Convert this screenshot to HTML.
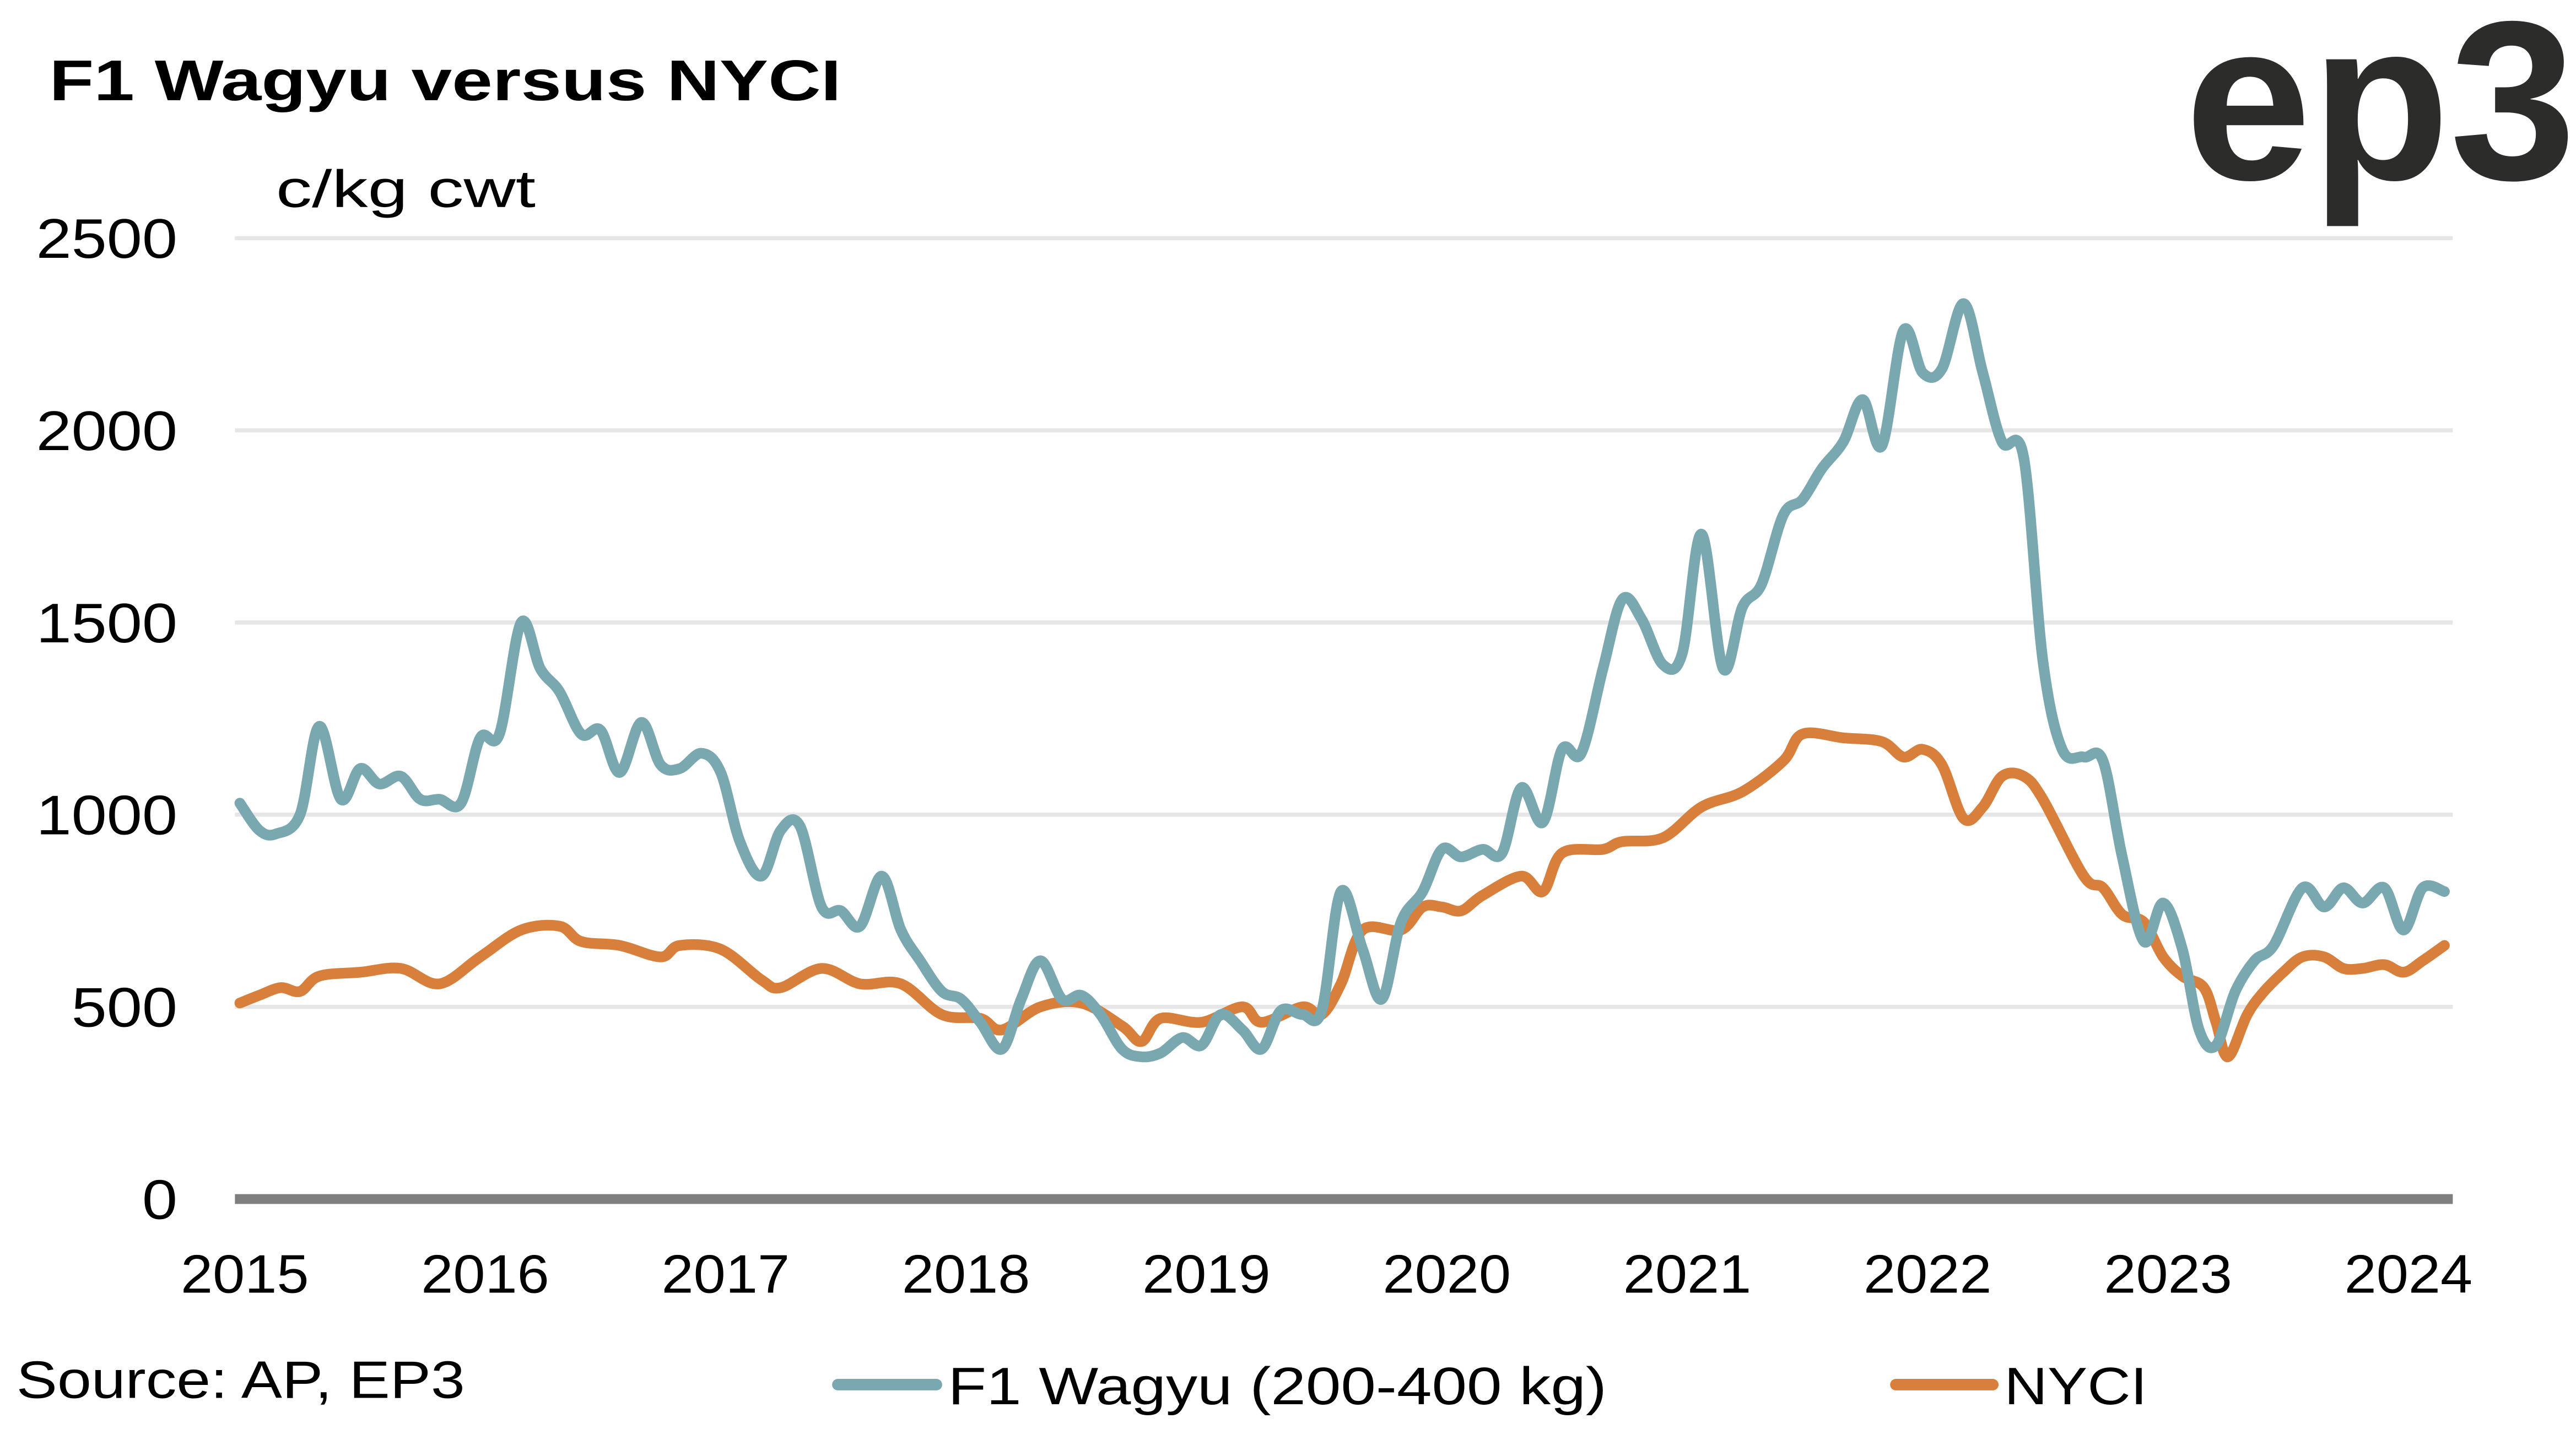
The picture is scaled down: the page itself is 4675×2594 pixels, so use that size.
<!DOCTYPE html>
<html><head><meta charset="utf-8"><style>
html,body{margin:0;padding:0;background:#fff;}
svg{display:block;}
text{font-family:"Liberation Sans",sans-serif;fill:#000;}
</style></head><body>
<svg width="4675" height="2594" viewBox="0 0 1568 870">
<text x="30" y="61" font-size="35" font-weight="bold" textLength="482" lengthAdjust="spacingAndGlyphs">F1 Wagyu versus NYCI</text>
<text x="1330" y="109" font-size="138" font-weight="bold" style="fill:#2c2c2a" textLength="238" lengthAdjust="spacingAndGlyphs">ep3</text>
<text x="168" y="126" font-size="32" textLength="158" lengthAdjust="spacingAndGlyphs">c/kg cwt</text>
<g id="grid"></g>
<g id="yt"></g>
<g id="xt"></g>
<g id="lines"></g>
<text x="10" y="851" font-size="32" textLength="273" lengthAdjust="spacingAndGlyphs">Source: AP, EP3</text>
<g>
<line x1="510" y1="843" x2="570" y2="843" stroke="#7aa8b0" stroke-width="7" stroke-linecap="round"/>
<text x="577" y="855" font-size="32" textLength="401" lengthAdjust="spacingAndGlyphs">F1 Wagyu (200-400 kg)</text></g>
<g>
<line x1="1154" y1="843" x2="1213" y2="843" stroke="#d77f3b" stroke-width="7" stroke-linecap="round"/>
<text x="1220" y="855" font-size="32" textLength="87" lengthAdjust="spacingAndGlyphs">NYCI</text></g>
</svg>
<script>
const yTicks=[0,500,1000,1500,2000,2500];
const xYears=[2015,2016,2017,2018,2019,2020,2021,2022,2023,2024];
const wagyuT=[2015.0,2015.08,2015.15,2015.25,2015.33,2015.42,2015.5,2015.58,2015.67,2015.75,2015.83,2015.92,2016.0,2016.08,2016.17,2016.25,2016.33,2016.42,2016.5,2016.58,2016.67,2016.75,2016.83,2016.92,2017.0,2017.08,2017.17,2017.25,2017.33,2017.42,2017.5,2017.58,2017.67,2017.75,2017.83,2017.92,2018.0,2018.08,2018.17,2018.25,2018.33,2018.42,2018.5,2018.58,2018.67,2018.75,2018.83,2018.92,2019.0,2019.08,2019.17,2019.25,2019.33,2019.42,2019.5,2019.58,2019.67,2019.75,2019.83,2019.92,2020.0,2020.08,2020.17,2020.25,2020.33,2020.42,2020.5,2020.58,2020.67,2020.75,2020.83,2020.92,2021.0,2021.08,2021.17,2021.25,2021.33,2021.42,2021.5,2021.58,2021.67,2021.75,2021.83,2021.92,2022.0,2022.08,2022.17,2022.25,2022.33,2022.42,2022.5,2022.58,2022.67,2022.75,2022.83,2022.92,2023.0,2023.08,2023.15,2023.22,2023.3,2023.38,2023.46,2023.58,2023.67,2023.75,2023.83,2023.92,2024.0,2024.08,2024.17];
const wagyuV=[1030,960,950,1000,1230,1040,1120,1080,1100,1040,1040,1030,1200,1210,1500,1380,1320,1210,1220,1110,1240,1130,1120,1160,1110,930,840,960,970,760,750,710,840,700,620,540,520,460,390,520,620,520,530,480,390,370,380,420,400,480,440,390,490,480,490,800,650,520,720,800,910,890,910,900,1070,980,1170,1160,1380,1560,1510,1390,1420,1730,1380,1540,1600,1780,1820,1900,1970,2080,1960,2260,2150,2160,2330,2150,1970,1930,1400,1170,1150,1140,890,670,770,650,440,400,540,620,660,810,760,810,770,810,700,810,800];
const nyciT=[2015.0,2015.08,2015.17,2015.25,2015.33,2015.5,2015.67,2015.83,2016.0,2016.17,2016.33,2016.42,2016.58,2016.75,2016.83,2017.0,2017.17,2017.25,2017.42,2017.58,2017.75,2017.92,2018.08,2018.17,2018.33,2018.5,2018.67,2018.75,2018.83,2019.0,2019.17,2019.25,2019.42,2019.5,2019.58,2019.67,2019.83,2019.92,2020.0,2020.08,2020.17,2020.33,2020.42,2020.5,2020.67,2020.75,2020.92,2021.08,2021.25,2021.42,2021.5,2021.67,2021.83,2021.92,2022.0,2022.08,2022.17,2022.25,2022.33,2022.42,2022.5,2022.67,2022.75,2022.83,2022.92,2023.0,2023.08,2023.17,2023.22,2023.27,2023.35,2023.42,2023.5,2023.58,2023.67,2023.75,2023.83,2023.92,2024.0,2024.08,2024.17];
const nyciV=[510,530,550,540,580,590,600,560,630,700,710,670,660,630,660,650,570,550,600,560,560,480,470,440,500,510,450,410,470,460,500,460,500,480,560,700,700,760,760,750,790,840,800,900,910,930,940,1020,1060,1140,1210,1200,1190,1150,1170,1130,990,1020,1100,1100,1040,840,810,740,720,630,580,550,460,370,480,540,590,630,630,600,600,610,590,620,660];
const NS='http://www.w3.org/2000/svg';
const X0=146,X1=1463,Y0=730,Y1=145;
function xs(t){return X0+(t-2015)*(X1-X0)/9;}
function ys(v){return Y0-v*(Y0-Y1)/2500;}
function mk(tag,attrs,parent){const e=document.createElementNS(NS,tag);for(const k in attrs)e.setAttribute(k,attrs[k]);parent.appendChild(e);return e;}
const grid=document.getElementById('grid'),yt=document.getElementById('yt'),xt=document.getElementById('xt'),lines=document.getElementById('lines');
yTicks.forEach(v=>{
  if(v>0){const g=mk('line',{x1:143,x2:1493,y1:ys(v),y2:ys(v),stroke:'#e6e6e6','stroke-width':2.5},grid);
  
  }
  const s=String(v);
  const t=mk('text',{x:108,y:ys(v)+12,'font-size':34,'text-anchor':'end',textLength:s.length*21.5,lengthAdjust:'spacingAndGlyphs'},yt);t.textContent=s;
  
  
});
xYears.forEach(y=>{const t=mk('text',{x:xs(y)+3,y:787,'font-size':33,'text-anchor':'middle',textLength:78,lengthAdjust:'spacingAndGlyphs'},xt);t.textContent=y;
  
  });
function path(T,V){const p=T.map((t,i)=>[xs(t),ys(V[i])]);let d='M'+p[0][0]+','+p[0][1];
  for(let i=0;i<p.length-1;i++){const a=p[Math.max(0,i-1)],b=p[i],c=p[i+1],e=p[Math.min(p.length-1,i+2)];
    const c1=[b[0]+(c[0]-a[0])/6,b[1]+(c[1]-a[1])/6],c2=[c[0]-(e[0]-b[0])/6,c[1]-(e[1]-b[1])/6];
    d+=' C'+c1[0].toFixed(1)+','+c1[1].toFixed(1)+' '+c2[0].toFixed(1)+','+c2[1].toFixed(1)+' '+c[0].toFixed(1)+','+c[1].toFixed(1);}
  return d;}
const n=mk('path',{d:path(nyciT,nyciV),fill:'none',stroke:'#d77f3b','stroke-width':6.5,'stroke-linejoin':'round','stroke-linecap':'round'},lines);


const w=mk('path',{d:path(wagyuT,wagyuV),fill:'none',stroke:'#7aa8b0','stroke-width':6.5,'stroke-linejoin':'round','stroke-linecap':'round'},lines);


const ax=mk('line',{x1:143,x2:1493,y1:Y0,y2:Y0,stroke:'#7f7f7f','stroke-width':6},lines);


</script>
</body></html>
